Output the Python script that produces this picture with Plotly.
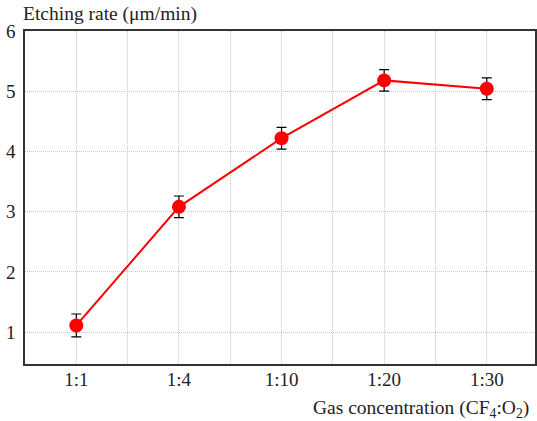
import plotly.graph_objects as go

categories = ["1:1", "1:4", "1:10", "1:20", "1:30"]
etch_rate = [1.11, 3.08, 4.22, 5.18, 5.04]
etch_err = [0.19, 0.18, 0.18, 0.18, 0.18]
y_ticks = [1, 2, 3, 4, 5, 6]

x_idx = list(range(len(categories)))
half_steps = [i + 0.5 for i in x_idx[:-1]]

FONT = "'Liberation Serif', serif"
GRID = "#c8c8c8"
DASH = "1px,1px"

fig = go.Figure()
fig.add_trace(go.Scatter(
    x=x_idx, y=etch_rate,
    mode="lines+markers",
    line=dict(color="#ff0000", width=2),
    marker=dict(color="#ff0000", size=14),
    error_y=dict(type="data", array=etch_err, visible=True,
                 color="black", thickness=1.2, width=5),
    showlegend=False,
))

fig.update_layout(
    width=537, height=421,
    margin=dict(l=25, r=0, t=31, b=57),
    paper_bgcolor="white", plot_bgcolor="white",
    font=dict(family=FONT, size=19, color="#222"),
    xaxis=dict(
        range=[-0.5, 4.47],
        tickmode="array", tickvals=x_idx, ticktext=categories,
        showgrid=True, gridcolor=GRID, griddash=DASH, gridwidth=1,
        minor=dict(tickvals=half_steps, showgrid=True, gridcolor=GRID,
                   griddash=DASH, gridwidth=1),
        showline=True, linecolor="#333", linewidth=1.5, mirror=True,
        ticks="", zeroline=False, ticklabelstandoff=-3,
    ),
    yaxis=dict(
        range=[0.47, 6.0],
        tickmode="array", tickvals=y_ticks,
        showgrid=True, gridcolor=GRID, griddash=DASH, gridwidth=1,
        showline=True, linecolor="#333", linewidth=1.5, mirror=True,
        ticks="", zeroline=False, ticklabelstandoff=4,
    ),
    annotations=[
        dict(text="Etching rate (μm/min)", x=0, xref="paper", xshift=-4,
             y=1, yref="paper", yshift=17, xanchor="left", yanchor="middle",
             showarrow=False, font=dict(family=FONT, size=19.5, color="#222")),
        dict(text="Gas concentration (CF<sub>4</sub>:O<sub>2</sub>)",
             x=(533 - 25) / 512, xref="paper", y=0, yref="paper", yshift=-45,
             xanchor="right", yanchor="middle", showarrow=False,
             font=dict(family=FONT, size=19.5, color="#222")),
    ],
)

fig.write_html("out.html")
